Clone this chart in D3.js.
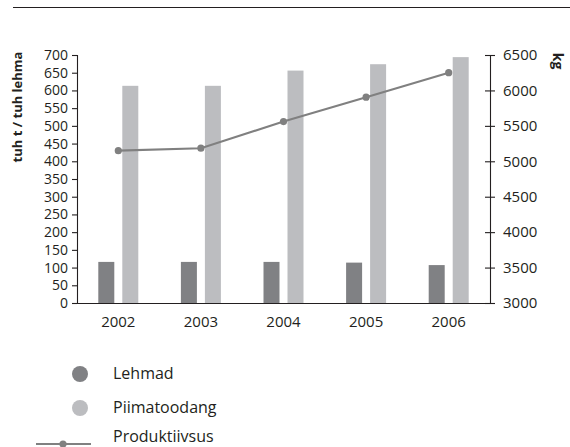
<!DOCTYPE html>
<html><head><meta charset="utf-8">
<script src="https://cdn.jsdelivr.net/npm/d3@7"></script>
<style>
body{margin:0;background:#fff;}
svg{display:block;font-family:"Open Sans",sans-serif;}
</style></head>
<body>
<svg id="chart" width="570" height="447"></svg>
<script>
const years = ["2002","2003","2004","2005","2006"];
const lehmad = [116, 116, 116, 114, 107];
const piimatoodang = [613, 613, 656, 674, 694];
const produktiivsus = [5150, 5185, 5560, 5905, 6250];
const leftTicks = [0,50,100,150,200,250,300,350,400,450,500,550,600,650,700];
const rightTicks = [3000,3500,4000,4500,5000,5500,6000,6500];
const legendLabels = ["Lehmad","Piimatoodang","Produktiivsus"];

const cDark = "#808184", cLight = "#bcbdc0", cLine = "#808080", cText = "#231f20";
const svg = d3.select("#chart");
const L = 77, R = 490, T = 55, B = 303;

// top rule
svg.append("line").attr("x1",13).attr("x2",570).attr("y1",7.5).attr("y2",7.5)
  .attr("stroke","#231f20").attr("stroke-width",1.2);

const x = d3.scaleBand().domain(years).range([L,R]);
const yL = d3.scaleLinear().domain([0,700]).range([B,T]);
const yR = d3.scaleLinear().domain([3000,6500]).range([B,T]);

// bars
const g = svg.append("g");
g.selectAll(".bd").data(years).join("rect")
  .attr("x",d=>x(d)+x.bandwidth()/2-20).attr("width",16)
  .attr("y",(d,i)=>yL(lehmad[i])).attr("height",(d,i)=>B-yL(lehmad[i]))
  .attr("fill",cDark);
g.selectAll(".bl").data(years).join("rect")
  .attr("x",d=>x(d)+x.bandwidth()/2+4).attr("width",16)
  .attr("y",(d,i)=>yL(piimatoodang[i])).attr("height",(d,i)=>B-yL(piimatoodang[i]))
  .attr("fill",cLight);

// line
const line = d3.line().x((d,i)=>x(years[i])+x.bandwidth()/2).y(d=>yR(d));
g.append("path").datum(produktiivsus).attr("d",line).attr("fill","none")
  .attr("stroke",cLine).attr("stroke-width",2.1);
g.selectAll(".pt").data(produktiivsus).join("circle")
  .attr("cx",(d,i)=>x(years[i])+x.bandwidth()/2).attr("cy",d=>yR(d)).attr("r",3.6)
  .attr("fill",cLine);

// axes
const axL = svg.append("g").attr("transform",`translate(${L},0)`)
  .call(d3.axisLeft(yL).tickValues(leftTicks).tickSize(5).tickPadding(4));
const axR = svg.append("g").attr("transform",`translate(${R},0)`)
  .call(d3.axisRight(yR).tickValues(rightTicks).tickSize(5).tickPadding(8).tickFormat(d3.format("d")));
axR.selectAll(".tick line").attr("x1",-5);
const axB = svg.append("g").attr("transform",`translate(0,${B})`)
  .call(d3.axisBottom(x).tickSize(0).tickPadding(13));
axB.select(".domain").attr("d",`M${L},0.5H${R}`);
[axL,axR,axB].forEach(a=>{
  a.selectAll("text").attr("font-size",a===axL?14:15).attr("fill",cText).attr("font-family","'Open Sans',sans-serif");
  a.selectAll("line,path").attr("stroke","#231f20").attr("stroke-width",1.1);
});

// axis titles
svg.append("text").attr("transform","translate(22,107) rotate(-90)")
  .attr("text-anchor","middle").attr("font-weight","bold").attr("font-size",13)
  .attr("fill",cText).text("tuh t / tuh lehma");
svg.append("text").attr("transform","translate(553,61) rotate(90)")
  .attr("text-anchor","middle").attr("font-weight","bold").attr("font-size",14)
  .attr("fill",cText).text("kg");

// legend
const lg = svg.append("g");
const ly = [374, 408, 441];
lg.append("circle").attr("cx",80).attr("cy",ly[0]).attr("r",8).attr("fill",cDark);
lg.append("circle").attr("cx",80).attr("cy",ly[1]).attr("r",8).attr("fill",cLight);
lg.append("line").attr("x1",36).attr("x2",91).attr("y1",ly[2]+3).attr("y2",ly[2]+3)
  .attr("stroke",cLine).attr("stroke-width",2.1);
lg.append("circle").attr("cx",63).attr("cy",ly[2]+3).attr("r",3.6).attr("fill",cLine);
lg.selectAll(".lt").data(legendLabels).join("text")
  .attr("x",113).attr("y",(d,i)=>[379,413,442][i]).attr("font-size",16).attr("fill",cText).text(d=>d);
</script>
</body></html>
